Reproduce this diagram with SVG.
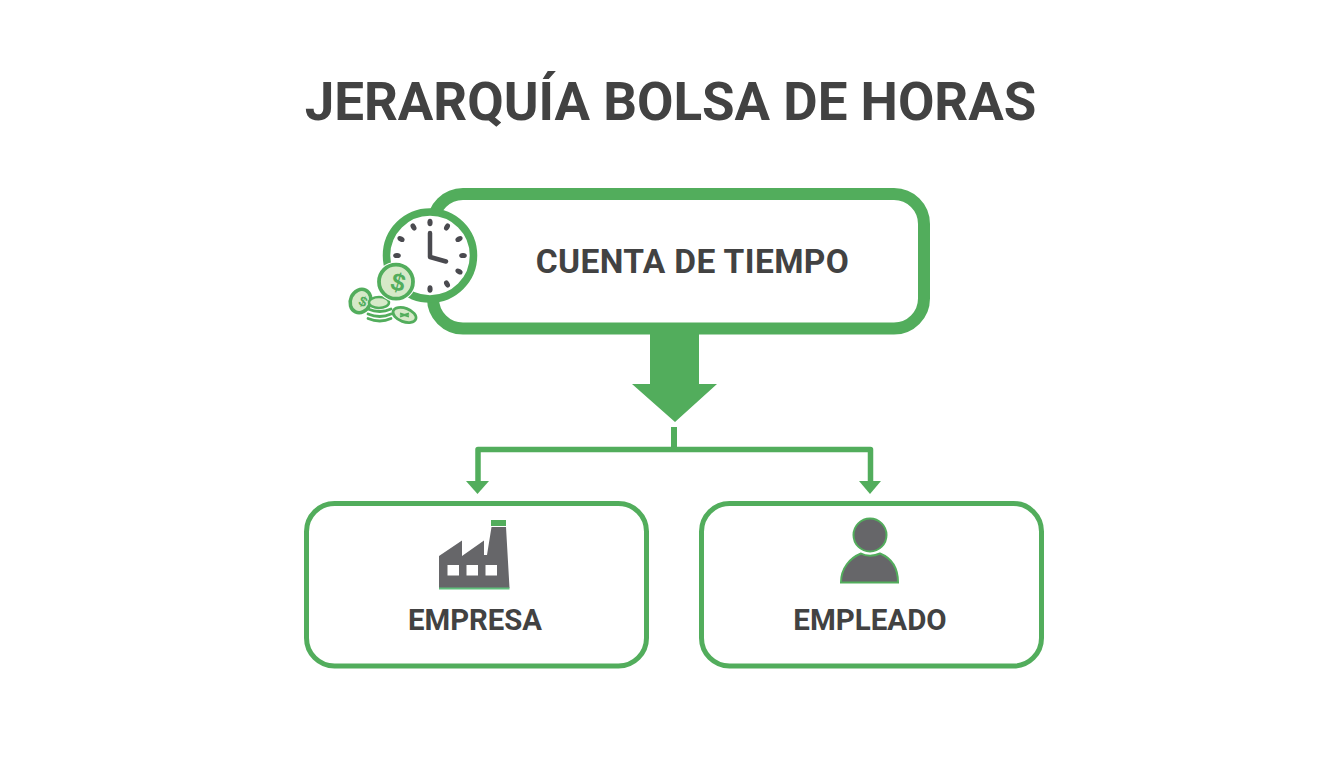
<svg xmlns="http://www.w3.org/2000/svg" width="1344" height="768" viewBox="0 0 1344 768">
<style>
.t{font-family:Roboto,"Liberation Sans",sans-serif;font-weight:700;text-anchor:middle;fill:#424242}
.g{fill:#52ad5c}
.box{fill:#fff;stroke:#52ad5c}
.tick{fill:#4a4a4f}
.coin{fill:#d6e9c8;stroke:#52ad5c}
.band{fill:none;stroke:#52ad5c;stroke-width:2.800;stroke-linecap:round}
.sym{font-family:"Liberation Sans",sans-serif;font-weight:700;text-anchor:middle;fill:#52ad5c}
.grey{fill:#666669}
</style>
<rect width="1344" height="768" fill="#fff"/>
<text class="t" x="670.500" y="120" font-size="52.900" id="title">JERARQUÍA BOLSA DE HORAS</text>
<g id="connectors">
<path class="g" d="M650 330H699V384H717L675 422L632 384H650Z"/>
<rect class="g" x="671" y="427" width="6" height="24"/>
<path d="M478 483V449.500H870.500V483" fill="none" stroke="#52ad5c" stroke-width="5.500" stroke-linejoin="round"/>
<path class="g" d="M466 481H489L477.500 494Z"/>
<path class="g" d="M859 481H881L870 494Z"/>
</g>
<g id="cuenta">
<rect class="box" x="433" y="194" width="491" height="134.500" rx="30" stroke-width="12"/>
<text class="t" x="692.500" y="273" font-size="33.500" letter-spacing="0.400">CUENTA DE TIEMPO</text>
<g id="clock">
<circle cx="430" cy="255.500" r="43.500" fill="#fff" stroke="#52ad5c" stroke-width="7.500"/>
<g class="tick">
<ellipse cx="430" cy="222.500" rx="2.600" ry="3.800"/>
<ellipse cx="430" cy="289" rx="2.600" ry="3.800"/>
<ellipse cx="397" cy="255.500" rx="3.800" ry="2.600"/>
<ellipse cx="463" cy="255.500" rx="3.800" ry="2.600"/>
<ellipse cx="413.500" cy="227" rx="2.600" ry="3.800" transform="rotate(-30 413.500 227)"/>
<ellipse cx="447" cy="227" rx="2.600" ry="3.800" transform="rotate(30 447 227)"/>
<ellipse cx="401" cy="239" rx="2.600" ry="3.800" transform="rotate(-60 401 239)"/>
<ellipse cx="459" cy="239" rx="2.600" ry="3.800" transform="rotate(60 459 239)"/>
<ellipse cx="459" cy="271.500" rx="2.600" ry="3.800" transform="rotate(-60 459 271.500)"/>
<ellipse cx="447" cy="284" rx="2.600" ry="3.800" transform="rotate(-30 447 284)"/>
</g>
<path d="M430 233V257L446 261.500" fill="none" stroke="#4a4a4f" stroke-width="4.500" stroke-linejoin="round" stroke-linecap="round"/>
</g>
<g id="coins">
<ellipse class="coin" cx="360.500" cy="301" rx="10" ry="12" stroke-width="3.500" transform="rotate(25 360.500 301)"/>
<text class="sym" font-size="14" transform="translate(361 306) rotate(25)">$</text>
<ellipse class="coin" cx="379" cy="302.500" rx="10" ry="5.500" stroke-width="2.500"/>
<path class="band" d="M368 309Q380 314 391 309"/>
<path class="band" d="M368 314Q380 319 391 314"/>
<path class="band" d="M368 318.500Q380 323.500 391 318.500"/>
<ellipse class="coin" cx="404.500" cy="315" rx="12" ry="6.800" stroke-width="2.800" transform="rotate(20 404.500 315)"/>
<path d="M400 313.500L409 316.500M400 316.500L409 313.500" stroke="#52ad5c" stroke-width="2"/>
<circle cx="396" cy="281.700" r="20" fill="#fff"/>
<circle class="coin" cx="396" cy="281.700" r="17" stroke-width="3.800"/>
<text class="sym" font-size="25" transform="translate(396 290.500) rotate(15)">$</text>
</g>
</g>
<g id="empresa">
<rect class="box" x="306.500" y="503.500" width="340" height="162.500" rx="28" stroke-width="5"/>
<path class="grey" d="M439 556L462 540.500V556L484 540.500V555L487 555L491.500 527H506L509.500 588H439Z"/>
<rect x="491" y="520" width="15" height="6" class="g"/>
<rect x="439" y="587.500" width="70.500" height="2" fill="#5fc07c"/>
<g fill="#fff"><rect x="447.500" y="565" width="11.500" height="10.500"/><rect x="466.500" y="565" width="11.500" height="10.500"/><rect x="485.500" y="565" width="11.500" height="10.500"/></g>
<text class="t" x="475" y="630" font-size="29.300">EMPRESA</text>
</g>
<g id="empleado">
<rect class="box" x="701.500" y="503.500" width="340" height="162.500" rx="28" stroke-width="5"/>
<circle class="grey" cx="870" cy="535" r="16.500" stroke="#52ad5c" stroke-width="2"/>
<path class="grey" d="M841 582.500C841 568 850 558 861 553.500C866 556.500 874 556.500 880 553.500C891 558 898 568 898 582.500Z" stroke="#52ad5c" stroke-width="2"/>
<text class="t" x="870" y="630" font-size="29.500">EMPLEADO</text>
</g>
</svg>
